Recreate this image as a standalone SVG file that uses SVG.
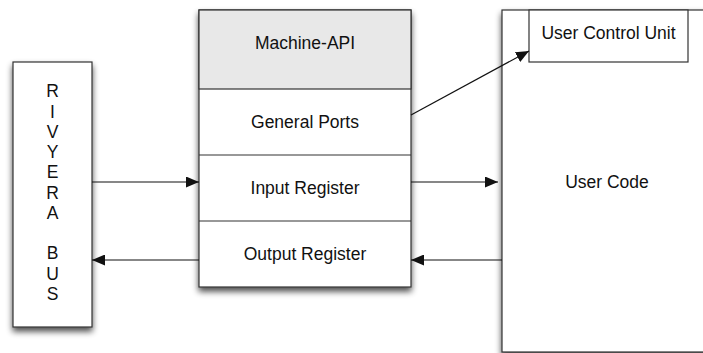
<svg xmlns="http://www.w3.org/2000/svg" width="703" height="353" viewBox="0 0 703 353">
<style>
.box{fill:#fff;stroke:#333;stroke-width:1.2}
.hdr{fill:#e8e8e8;stroke:#333;stroke-width:1.2}
.sep{stroke:#333;stroke-width:1.2;fill:none}
text{font-family:"Liberation Sans",Arial,sans-serif;font-size:17.5px;fill:#111;text-anchor:middle}
.conn line{stroke:#111;stroke-width:1.2;fill:none}
</style>
<defs>
<filter id="sh" x="-20%" y="-20%" width="140%" height="140%">
<feGaussianBlur in="SourceAlpha" stdDeviation="3"/>
<feOffset dx="0" dy="4" result="b"/>
<feComponentTransfer><feFuncA type="linear" slope="0.7"/></feComponentTransfer>
<feMerge><feMergeNode/><feMergeNode in="SourceGraphic"/></feMerge>
</filter>
<marker id="ah" viewBox="0 0 13 11" refX="13" refY="5.5" markerWidth="13" markerHeight="11" markerUnits="userSpaceOnUse" orient="auto">
<path d="M0,0 L13,5.5 L0,11 z" fill="#111"/>
</marker>
</defs>
<rect width="703" height="353" fill="#fff"/>
<g id="rivyera-bus">
<rect class="box" x="13" y="62" width="79" height="265" filter="url(#sh)"/>
<text x="52.5" y="97.3">R</text>
<text x="52.5" y="117.5">I</text>
<text x="52.5" y="137.8">V</text>
<text x="52.5" y="158">Y</text>
<text x="52.5" y="178.3">E</text>
<text x="52.5" y="198.5">R</text>
<text x="52.5" y="218.8">A</text>
<text x="52.5" y="259.3">B</text>
<text x="52.5" y="279.5">U</text>
<text x="52.5" y="299.8">S</text>
</g>
<g id="machine-api">
<rect class="box" x="199" y="10" width="212" height="277" filter="url(#sh)"/>
<rect class="hdr" x="199" y="10" width="212" height="79"/>
<line class="sep" x1="199" y1="155" x2="411" y2="155"/>
<line class="sep" x1="199" y1="221" x2="411" y2="221"/>
<text x="305" y="49.3">Machine-API</text>
<text x="305" y="128.3">General Ports</text>
<text x="305" y="194">Input Register</text>
<text x="305" y="259.5">Output Register</text>
</g>
<g id="user-code">
<rect class="box" x="502" y="10" width="240" height="342" filter="url(#sh)"/>
<text x="607" y="188.3">User Code</text>
</g>
<g id="user-control-unit">
<rect class="box" x="529" y="10" width="159" height="52"/>
<text x="608.5" y="39.3">User Control Unit</text>
</g>
<g class="conn" id="connectors">
<line x1="92" y1="182" x2="199" y2="182" marker-end="url(#ah)"/>
<line x1="199" y1="260" x2="92" y2="260" marker-end="url(#ah)"/>
<line x1="411" y1="182" x2="498" y2="182" marker-end="url(#ah)"/>
<line x1="502" y1="260" x2="411" y2="260" marker-end="url(#ah)"/>
<line x1="411" y1="115" x2="529" y2="51" marker-end="url(#ah)"/>
</g>
</svg>
